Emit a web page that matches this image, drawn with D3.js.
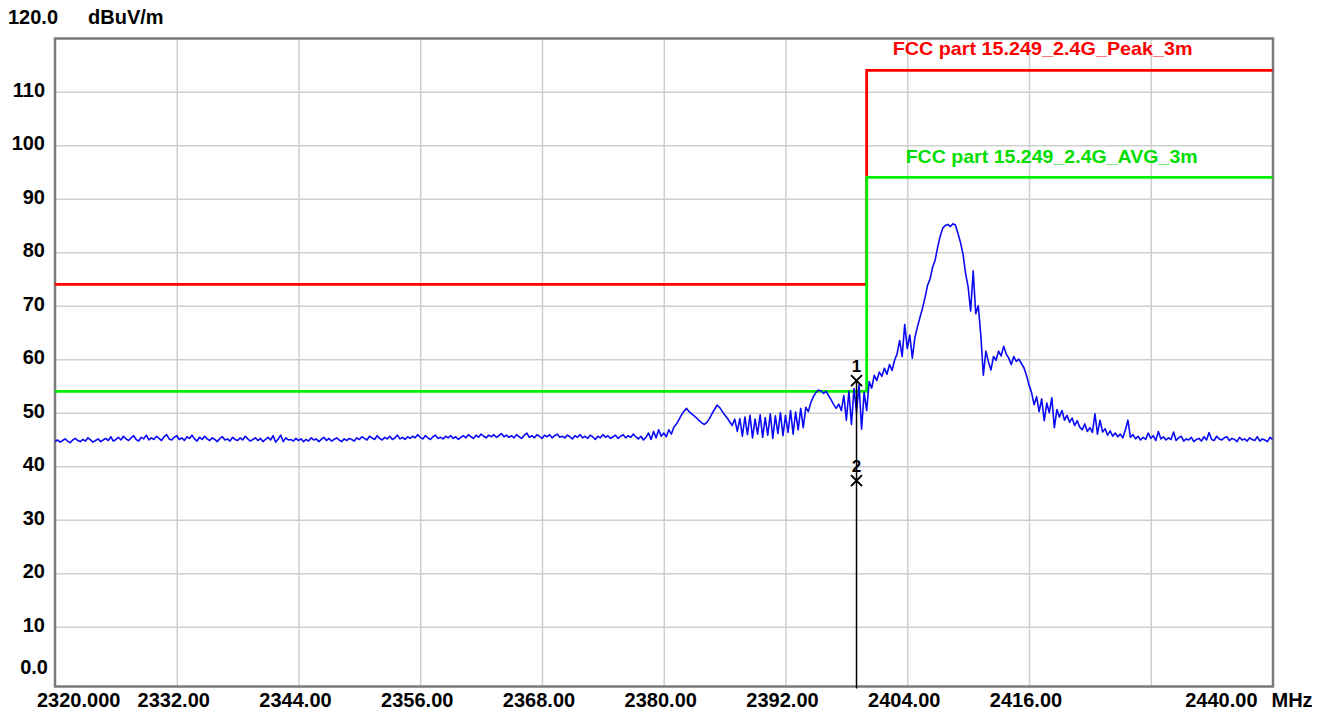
<!DOCTYPE html>
<html>
<head>
<meta charset="utf-8">
<script src="https://cdn.jsdelivr.net/npm/d3@7"></script>
<style>
  html, body { margin: 0; padding: 0; background: #ffffff; }
  svg { display: block; }
  text { font-family: "Liberation Sans", Arial, sans-serif; font-weight: bold; }
</style>
</head>
<body>
<svg id="chart" width="1327" height="714"></svg>
<script>
// ---------------- DATA ----------------
const freqStart = 2320;      // MHz, first trace sample
const freqStep = 0.25;       // MHz between trace samples
const traceLevel = [
  // 2320
  44.6,44.9,44.5,44.8,45.1,44.7,44.4,44.9,45.2,44.8,44.6,45.0,44.7,45.3,44.9,44.5,44.8,45.1,44.6,44.9,
  // 2325
  45.2,44.8,45.5,44.7,45.0,45.4,44.9,45.6,45.1,44.8,45.3,45.7,45.0,44.7,45.4,45.1,45.8,44.9,45.3,45.0,
  // 2330
  45.6,45.2,44.8,45.5,45.9,45.1,44.9,45.4,45.7,45.0,45.3,44.8,45.5,45.2,45.8,45.1,44.7,45.4,45.0,45.6,
  // 2335
  45.1,44.8,45.3,45.0,44.6,45.2,45.5,44.9,45.1,44.7,45.4,45.0,44.8,45.3,44.9,45.6,45.1,44.7,45.0,45.3,
  // 2340
  44.8,45.2,44.6,45.0,45.4,44.9,45.7,44.5,45.1,45.8,44.6,45.3,44.9,45.0,44.7,45.2,44.8,45.1,44.6,45.0,
  // 2345
  44.7,45.3,44.9,45.1,44.6,45.0,45.4,44.8,45.2,44.7,45.0,45.3,44.9,44.6,45.1,44.8,45.2,45.0,44.7,45.3,
  // 2350
  45.0,45.5,45.2,44.9,45.6,45.3,45.0,45.7,45.2,44.9,45.4,45.1,45.6,45.0,45.3,45.8,45.1,45.4,45.0,45.5,
  // 2355
  45.2,45.6,45.3,45.9,45.4,45.1,45.7,45.3,45.0,45.5,45.8,45.2,45.4,45.1,45.6,45.3,45.7,45.2,45.5,45.0,
  // 2360
  45.4,45.7,45.3,45.9,45.5,45.2,45.8,45.4,46.0,45.6,45.3,45.8,45.5,45.9,45.4,45.7,46.1,45.5,45.8,45.4,
  // 2365
  45.7,45.3,45.9,45.5,45.2,45.8,46.2,45.4,45.7,45.3,45.9,45.6,45.2,45.8,45.5,45.9,45.3,45.7,46.0,45.4,
  // 2370
  45.6,45.3,45.8,45.5,45.1,45.7,45.4,45.9,45.3,45.6,45.2,45.8,45.5,45.0,45.6,45.3,45.9,45.4,45.7,45.2,
  // 2375
  45.5,45.8,45.2,45.6,45.9,45.3,45.7,45.4,46.0,45.5,45.1,45.6,44.9,45.4,46.2,45.0,46.5,45.3,46.8,45.6,
  // 2380
  46.2,45.5,46.8,46.0,47.3,47.9,48.7,49.6,50.3,50.8,50.2,49.8,49.4,49.0,48.5,48.1,47.8,48.2,48.9,49.8,
  // 2385
  50.6,51.4,51.0,50.3,49.6,49.0,48.3,47.6,48.8,46.5,48.9,45.6,49.2,45.9,49.5,45.3,48.8,46.0,49.6,45.4,
  // 2390
  49.1,45.8,49.8,45.2,49.4,46.1,50.0,45.7,49.5,46.3,50.4,46.0,50.1,46.8,50.8,47.2,51.0,50.2,51.9,53.0,
  // 2395
  53.8,54.2,54.1,53.6,54.0,53.2,52.4,51.5,50.8,51.6,50.4,53.2,48.6,54.0,47.8,54.5,50.2,55.2,46.9,53.8,
  // 2400
  50.4,55.8,54.6,57.0,56.0,57.6,56.8,58.3,57.2,59.0,57.9,59.8,61.0,63.5,60.5,66.5,62.0,64.5,60.2,64.0,
  // 2405
  66.0,67.8,69.5,71.5,73.8,75.0,77.2,78.5,81.0,83.0,84.5,85.0,85.2,84.8,85.3,85.1,83.5,81.8,79.6,76.0,
  // 2410
  73.5,69.0,76.5,68.5,70.0,64.5,57.0,61.5,59.5,58.0,60.5,59.8,61.5,60.6,62.4,61.0,60.2,59.0,60.5,59.6,
  // 2415
  60.0,59.2,58.4,57.0,55.2,53.8,51.5,53.0,50.2,52.6,48.5,51.8,50.0,52.8,47.2,50.6,49.2,50.4,48.6,49.5,
  // 2420
  48.2,49.0,47.6,48.5,47.3,46.8,47.9,46.5,47.2,46.3,49.8,46.0,48.6,46.4,47.0,45.8,46.6,45.6,46.2,45.5,
  // 2425
  46.0,45.3,46.8,48.6,45.4,45.9,45.1,45.6,44.9,45.4,45.0,46.2,45.2,45.7,44.8,46.5,45.1,45.5,44.9,45.3,
  // 2430
  45.0,46.4,44.8,45.3,45.6,44.7,45.1,44.9,45.4,44.6,45.0,45.2,44.7,45.5,44.9,46.3,45.0,44.8,45.6,45.1,
  // 2435 .. 2440
  44.9,45.3,45.5,44.8,45.2,45.0,44.6,45.4,44.9,45.1,44.7,45.3,45.0,44.8,45.5,44.7,45.1,44.9,44.6,45.4,45.0
];

const yTickValues = [0, 10, 20, 30, 40, 50, 60, 70, 80, 90, 100, 110, 120];
const yTickLabels = ["0.0", "10", "20", "30", "40", "50", "60", "70", "80", "90", "100", "110", "120.0"];
const xTickValues = [2320, 2332, 2344, 2356, 2368, 2380, 2392, 2404, 2416, 2428, 2440];
const xTickLabels = ["2320.000", "2332.00", "2344.00", "2356.00", "2368.00", "2380.00", "2392.00", "2404.00", "2416.00", "", "2440.00"];
const yUnit = "dBuV/m";
const xUnit = "MHz";

const peakLimitFreq = [2320, 2400, 2400, 2440];
const peakLimitLevel = [74, 74, 114, 114];
const peakLimitName = "FCC part 15.249_2.4G_Peak_3m";
const avgLimitFreq = [2320, 2400, 2400, 2440];
const avgLimitLevel = [54, 54, 94, 94];
const avgLimitName = "FCC part 15.249_2.4G_AVG_3m";

const markerIds = ["1", "2"];
const markerFreq = [2399, 2399];
const markerLevel = [56.0, 37.3];

// ---------------- LAYOUT ----------------
const frame = { left: 55, right: 1273, top: 38.5, bottom: 686.5 };
const svg = d3.select("#chart");

const x = d3.scaleLinear().domain([2320, 2440]).range([55, 1272.5]);
const y = d3.scaleLinear().domain([0, 120]).range([680.2, 38.2]);

// grid (via axes)
const gridX = svg.append("g")
  .attr("transform", `translate(0,${frame.bottom})`)
  .call(d3.axisBottom(x)
    .tickValues(xTickValues.filter(v => v > 2320 && v < 2440))
    .tickSize(-(frame.bottom - frame.top))
    .tickFormat(""));
gridX.select(".domain").remove();
gridX.selectAll("line").attr("stroke", "#cfcfcf").attr("stroke-width", 1.5);

const gridY = svg.append("g")
  .attr("transform", `translate(${frame.left},0)`)
  .call(d3.axisLeft(y)
    .tickValues(yTickValues.filter(v => v > 0 && v < 120))
    .tickSize(-(frame.right - frame.left))
    .tickFormat(""));
gridY.select(".domain").remove();
gridY.selectAll("line").attr("stroke", "#cfcfcf").attr("stroke-width", 1.5);

// frame
svg.append("rect")
  .attr("x", frame.left).attr("y", frame.top)
  .attr("width", frame.right - frame.left).attr("height", frame.bottom - frame.top)
  .attr("fill", "none").attr("stroke", "#7a7a7a").attr("stroke-width", 2.5);

// limit lines
const line = d3.line().x(d => x(d[0])).y(d => y(d[1]));
svg.append("path")
  .attr("d", line(peakLimitFreq.map((f, i) => [f, peakLimitLevel[i]])))
  .attr("fill", "none").attr("stroke", "#ff0000").attr("stroke-width", 2.8);
svg.append("path")
  .attr("d", line(avgLimitFreq.map((f, i) => [f, avgLimitLevel[i]])))
  .attr("fill", "none").attr("stroke", "#00ee00").attr("stroke-width", 2.8);

svg.append("text")
  .attr("x", x(2400) + 26).attr("y", y(114) - 15.5)
  .attr("fill", "#ff0000").attr("font-size", 19)
  .attr("textLength", 300).attr("lengthAdjust", "spacingAndGlyphs")
  .text(peakLimitName);
svg.append("text")
  .attr("x", x(2400) + 39).attr("y", y(94) - 14)
  .attr("fill", "#00dd00").attr("font-size", 19)
  .attr("textLength", 292).attr("lengthAdjust", "spacingAndGlyphs")
  .text(avgLimitName);

// trace
const tracePts = traceLevel.map((v, i) => [freqStart + i * freqStep, v]);
svg.append("path")
  .attr("d", line(tracePts))
  .attr("fill", "none").attr("stroke", "#0a0af5").attr("stroke-width", 1.6)
  .attr("stroke-linejoin", "round");

// markers
const mTop = d3.max(markerLevel);
svg.append("line")
  .attr("x1", x(markerFreq[0])).attr("x2", x(markerFreq[0]))
  .attr("y1", y(mTop)).attr("y2", frame.bottom + 2)
  .attr("stroke", "#000").attr("stroke-width", 1.5);
markerIds.forEach((id, i) => {
  const cx = x(markerFreq[i]), cy = y(markerLevel[i]);
  const s = 5.5;
  svg.append("path")
    .attr("d", `M${cx - s},${cy - s}L${cx + s},${cy + s}M${cx + s},${cy - s}L${cx - s},${cy + s}`)
    .attr("stroke", "#000").attr("stroke-width", 2).attr("fill", "none");
  svg.append("text")
    .attr("x", cx).attr("y", cy - 9)
    .attr("text-anchor", "middle").attr("font-size", 17).attr("font-weight", "normal")
    .attr("fill", "#000").text(id);
});

// y tick labels
yTickValues.forEach((v, i) => {
  const t = svg.append("text").attr("font-size", 20).attr("fill", "#000").text(yTickLabels[i]);
  if (v === 120) {
    t.attr("x", 8).attr("y", y(v) - 14.5).attr("text-anchor", "start");
  } else if (v === 0) {
    t.attr("x", 48).attr("y", y(v) - 6.5).attr("text-anchor", "end");
  } else {
    t.attr("x", 45).attr("y", y(v) + 5).attr("text-anchor", "end");
  }
});
svg.append("text").attr("x", 88).attr("y", y(120) - 14.5)
  .attr("font-size", 20).attr("fill", "#000").text(yUnit);

// x tick labels
xTickValues.forEach((v, i) => {
  if (!xTickLabels[i]) return;
  const t = svg.append("text").attr("font-size", 20).attr("fill", "#000")
    .attr("y", 707).text(xTickLabels[i]);
  if (i === 0) {
    t.attr("x", x(v) - 18).attr("text-anchor", "start");
  } else if (v === 2440) {
    t.attr("x", x(v) - 15).attr("text-anchor", "end");
  } else {
    t.attr("x", x(v) - 3).attr("text-anchor", "middle");
  }
});
svg.append("text").attr("x", x(2440) - 1).attr("y", 707)
  .attr("font-size", 20).attr("fill", "#000").text(xUnit);
</script>
</body>
</html>
